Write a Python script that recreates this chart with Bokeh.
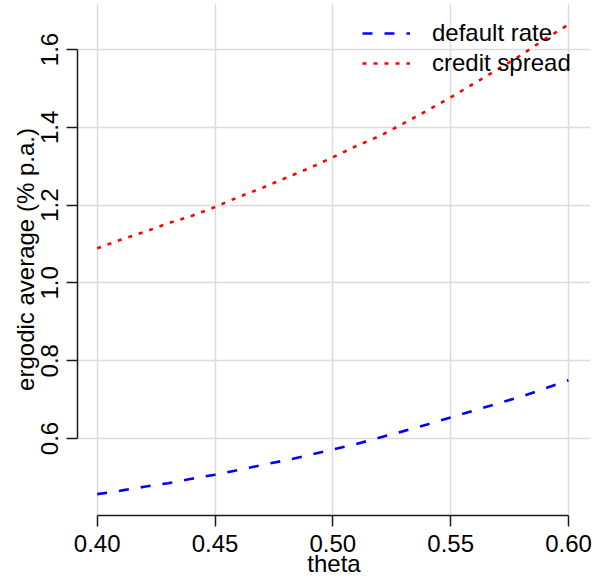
from bokeh.plotting import figure
from bokeh.models import FixedTicker, PrintfTickFormatter, Range1d, Legend, LegendItem
from bokeh.embed import file_html
from bokeh.resources import INLINE

# ---- data ----
theta = [0.40, 0.41, 0.42, 0.43, 0.44, 0.45, 0.46, 0.47, 0.48, 0.49, 0.50,
         0.51, 0.52, 0.53, 0.54, 0.55, 0.56, 0.57, 0.58, 0.59, 0.60]
default_rate = [0.457, 0.466, 0.476, 0.485, 0.4965, 0.507, 0.519, 0.532, 0.544, 0.5575, 0.572,
                0.586, 0.6025, 0.619, 0.636, 0.654, 0.672, 0.690, 0.708, 0.7285, 0.750]
credit_spread = [1.089, 1.111, 1.131, 1.153, 1.172, 1.195, 1.221, 1.244, 1.270, 1.295, 1.323,
                 1.352, 1.378, 1.410, 1.443, 1.477, 1.513, 1.549, 1.586, 1.627, 1.664]
x_ticks = [0.40, 0.45, 0.50, 0.55, 0.60]
y_ticks = [0.6, 0.8, 1.0, 1.2, 1.4, 1.6]
series_names = ["default rate", "credit spread"]

FONT = "Liberation Sans"

p = figure(width=595, height=580, output_backend="svg", toolbar_location=None,
           x_range=Range1d(0.39164, 0.60934), y_range=Range1d(0.4021, 1.7183),
           min_border_left=77, min_border_right=5, min_border_top=3, min_border_bottom=65)
p.outline_line_color = None
p.background_fill_color = "white"
p.border_fill_color = "white"

r1 = p.line(theta, default_rate, line_color="blue", line_width=2.6, line_dash="10 12")
r2 = p.line(theta, credit_spread, line_color="red", line_width=2.6, line_dash="4 7")

# axes
for ax, ticks, fmt in ((p.xaxis[0], x_ticks, "%.2f"), (p.yaxis[0], y_ticks, "%.1f")):
    ax.ticker = FixedTicker(ticks=ticks)
    ax.formatter = PrintfTickFormatter(format=fmt)
    ax.bounds = (min(ticks), max(ticks))
    ax.axis_line_color = "#1a1a1a"
    ax.axis_line_width = 1.5
    ax.major_tick_line_color = "#1a1a1a"
    ax.major_tick_line_width = 1.5
    ax.major_tick_out = 11
    ax.major_tick_in = 0
    ax.minor_tick_line_color = None
    ax.major_label_text_font = FONT
    ax.major_label_text_font_size = "24px"
    ax.major_label_text_color = "black"
    ax.axis_label_text_font = FONT
    ax.axis_label_text_font_size = "24px"
    ax.axis_label_text_font_style = "normal"
    ax.axis_label_text_color = "black"

p.xaxis.axis_label = "theta"
p.xaxis.major_label_standoff = 8
p.xaxis.axis_label_standoff = -5
p.yaxis.axis_label = "ergodic average (% p.a.)"
p.yaxis.major_label_orientation = "vertical"
p.yaxis.major_label_standoff = 8
p.yaxis.axis_label_standoff = 0

# grid
p.xgrid.ticker = FixedTicker(ticks=x_ticks)
p.ygrid.ticker = FixedTicker(ticks=y_ticks)
for g in (p.xgrid[0], p.ygrid[0]):
    g.grid_line_color = "#dcdcdc"
    g.grid_line_width = 1.5

legend = Legend(items=[LegendItem(label=series_names[0], renderers=[r1]),
                       LegendItem(label=series_names[1], renderers=[r2])],
                location=(285, 437), padding=0, margin=0, spacing=0,
                glyph_width=48, glyph_height=30, label_height=30, label_standoff=22,
                label_text_font=FONT, label_text_font_size="24px", label_text_color="black",
                background_fill_alpha=0, border_line_alpha=0)
p.add_layout(legend, "center")

open("out.html", "w").write(file_html(p, INLINE))
